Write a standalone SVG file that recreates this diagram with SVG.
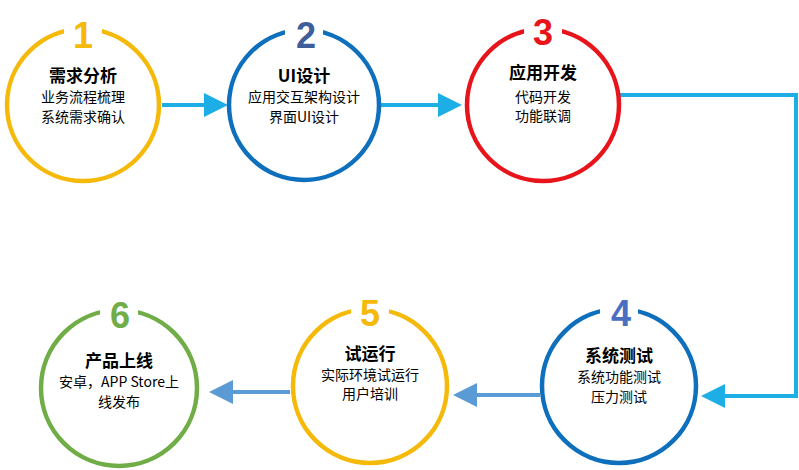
<svg xmlns="http://www.w3.org/2000/svg" width="799" height="470" viewBox="0 0 799 470">
<defs>
<marker id="ac" markerWidth="6" markerHeight="6" refX="5" refY="3" orient="auto" markerUnits="strokeWidth"><path d="M0,0 L6,3 L0,6 z" fill="#1DAEE6"/></marker>
<marker id="ab" markerWidth="6" markerHeight="6" refX="5" refY="3" orient="auto" markerUnits="strokeWidth"><path d="M0,0 L6,3 L0,6 z" fill="#5B9BD5"/></marker>
</defs>
<style>
.c{fill:#fff;stroke-width:4.5}
.n{font-family:"Liberation Sans",Arial,sans-serif;font-weight:bold;font-size:36px;text-anchor:middle}
.t{font-family:"Noto Sans CJK SC","Liberation Sans",sans-serif;font-weight:bold;font-size:17px;text-anchor:middle;fill:#000}
.s{font-family:"Noto Sans CJK SC","Liberation Sans",sans-serif;font-size:14px;text-anchor:middle;fill:#000}
.lc{fill:none;stroke:#1DAEE6;stroke-width:4}
.lb{fill:none;stroke:#5B9BD5;stroke-width:4}
</style>
<rect width="799" height="470" fill="#fff"/>
<g id="connectors">
<line class="lc" x1="162" y1="105" x2="224" y2="105" marker-end="url(#ac)"/>
<line class="lc" x1="381" y1="105" x2="458" y2="105" marker-end="url(#ac)"/>
<polyline class="lc" points="620,95 796,95 796,396 705,396" marker-end="url(#ac)"/>
<line class="lb" x1="540" y1="395" x2="457" y2="395" marker-end="url(#ab)"/>
<line class="lb" x1="290" y1="392" x2="213" y2="392" marker-end="url(#ab)"/>
</g>
<g id="n1"><circle class="c" cx="83" cy="105" r="76" stroke="#F5B90A"/><rect x="64" y="18" width="38" height="30" fill="#fff"/><text class="n" x="83" y="48" fill="#F5B90A">1</text>
<text class="t" x="83" y="82">需求分析</text><text class="s" x="83" y="102">业务流程梳理</text><text class="s" x="83" y="122">系统需求确认</text></g>
<g id="n2"><circle class="c" cx="304" cy="105" r="75" stroke="#0E6FBC"/><rect x="285" y="18" width="38" height="30" fill="#fff"/><text class="n" x="306" y="48" fill="#3F5E9A">2</text>
<text class="t" x="304" y="82">UI设计</text><text class="s" x="304" y="102">应用交互架构设计</text><text class="s" x="304" y="122">界面UI设计</text></g>
<g id="n3"><circle class="c" cx="543" cy="105" r="76" stroke="#E8141B"/><rect x="524" y="16" width="38" height="30" fill="#fff"/><text class="n" x="543" y="45" fill="#E8141B">3</text>
<text class="t" x="543" y="79">应用开发</text><text class="s" x="543" y="102">代码开发</text><text class="s" x="543" y="121">功能联调</text></g>
<g id="n4"><circle class="c" cx="619" cy="386" r="77" stroke="#0E6FBC"/><rect x="600" y="298" width="38" height="30" fill="#fff"/><text class="n" x="621" y="326" fill="#4A6FC0">4</text>
<text class="t" x="619" y="362">系统测试</text><text class="s" x="619" y="382">系统功能测试</text><text class="s" x="619" y="402">压力测试</text></g>
<g id="n5"><circle class="c" cx="370" cy="386" r="77" stroke="#F5B90A"/><rect x="351" y="298" width="38" height="30" fill="#fff"/><text class="n" x="370" y="326" fill="#F5B90A">5</text>
<text class="t" x="370" y="360">试运行</text><text class="s" x="370" y="380">实际环境试运行</text><text class="s" x="370" y="399">用户培训</text></g>
<g id="n6"><circle class="c" cx="119" cy="388" r="78" stroke="#70AD47"/><rect x="100" y="300" width="38" height="30" fill="#fff"/><text class="n" x="120" y="328" fill="#70AD47">6</text>
<text class="t" x="119" y="367">产品上线</text><text class="s" x="119" y="387">安卓，APP Store上</text><text class="s" x="119" y="407">线发布</text></g>
</svg>
